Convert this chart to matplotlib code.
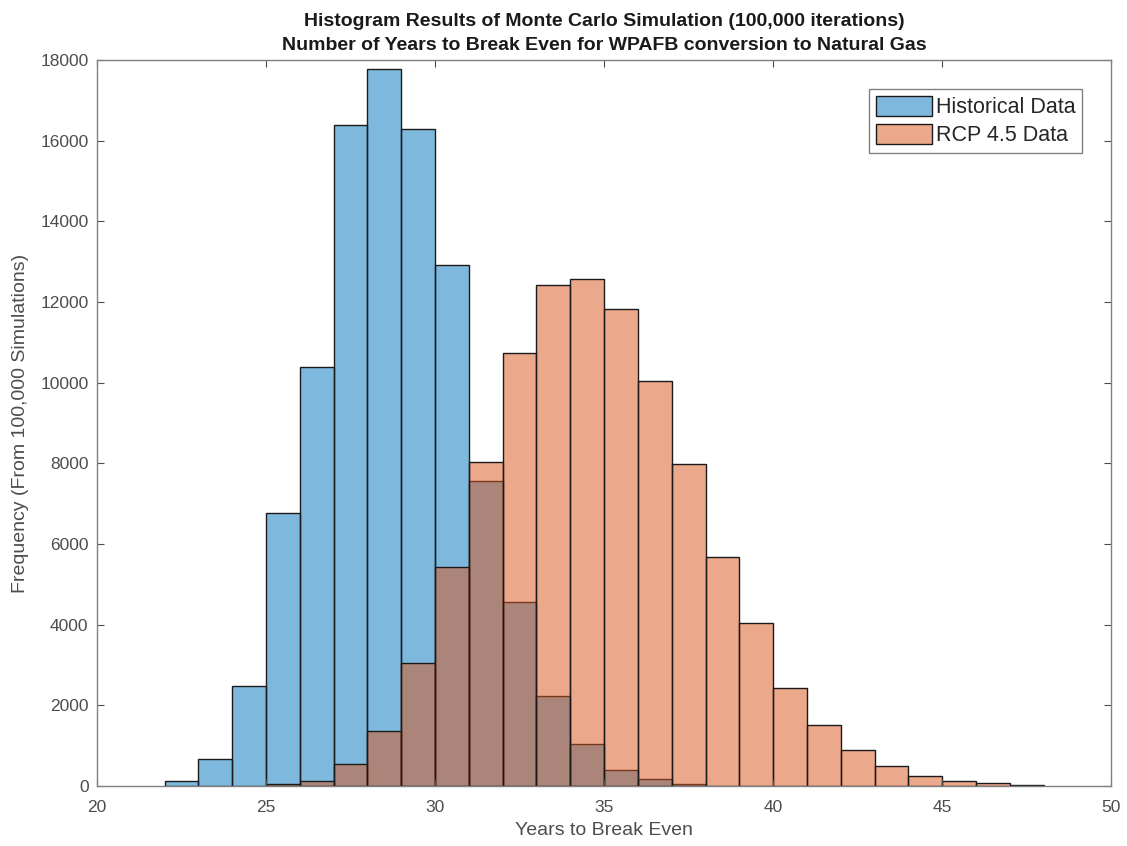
import numpy as np
import matplotlib
matplotlib.use("Agg")
import matplotlib.pyplot as plt

plt.rcParams["font.family"] = ["Liberation Sans", "DejaVu Sans"]

# bin left edges (width 1 year) and counts
hist_bins = list(range(22, 38))
hist_counts = [130, 680, 2480, 6770, 10400, 16390, 17790, 16290,
               12920, 7570, 4560, 2230, 1030, 390, 165, 40]

rcp_bins = list(range(25, 48))
rcp_counts = [40, 115, 535, 1370, 3060, 5430, 8040, 10730, 12420, 12580,
              11820, 10040, 7980, 5670, 4030, 2430, 1520, 890, 500, 240,
              125, 66, 33]

x_ticks = [20, 25, 30, 35, 40, 45, 50]
y_ticks = list(range(0, 18001, 2000))

BLUE = (0.0, 0.447, 0.741, 0.5)
ORANGE = (0.851, 0.325, 0.098, 0.5)
TXT = "#4d4d4d"

fig = plt.figure(figsize=(11.27, 8.46), dpi=100)
ax = fig.add_axes([0.086, 0.071, 0.900, 0.858])

ax.bar(hist_bins, hist_counts, width=1, align="edge", color=BLUE,
       edgecolor="#1a1a1a", linewidth=1.0, label="Historical Data")
ax.bar(rcp_bins, rcp_counts, width=1, align="edge", color=ORANGE,
       edgecolor="#1a1a1a", linewidth=1.0, label="RCP 4.5 Data")

ax.set_xlim(20, 50)
ax.set_ylim(0, 18000)
ax.set_xticks(x_ticks)
ax.set_yticks(y_ticks)
ax.tick_params(direction="in", top=True, right=True, length=5,
               color=TXT, labelcolor=TXT, labelsize=12.5, width=0.8)
ax.tick_params(axis="x", pad=10)
ax.tick_params(axis="y", pad=6)
for s in ax.spines.values():
    s.set_color("#808080")
    s.set_linewidth(1.0)

ax.set_xlabel("Years to Break Even", fontsize=14, color=TXT, labelpad=5)
ax.set_ylabel("Frequency (From 100,000 Simulations)", fontsize=14,
              color=TXT, labelpad=8)
ax.set_title("Histogram Results of Monte Carlo Simulation (100,000 iterations)\n"
             "Number of Years to Break Even for WPAFB conversion to Natural Gas",
             fontsize=14, fontweight="bold", color="#1a1a1a", pad=7,
             linespacing=1.55)

leg = ax.legend(loc="upper right", fontsize=15.5, fancybox=False,
                edgecolor="#808080", framealpha=1, borderpad=0.3,
                handlelength=2.6, handleheight=1.05, handletextpad=0.2,
                labelspacing=0.28, borderaxespad=1.35)
leg.get_frame().set_linewidth(1.0)
for t in leg.get_texts():
    t.set_color("#262626")

fig.savefig("out.png", dpi=100)
